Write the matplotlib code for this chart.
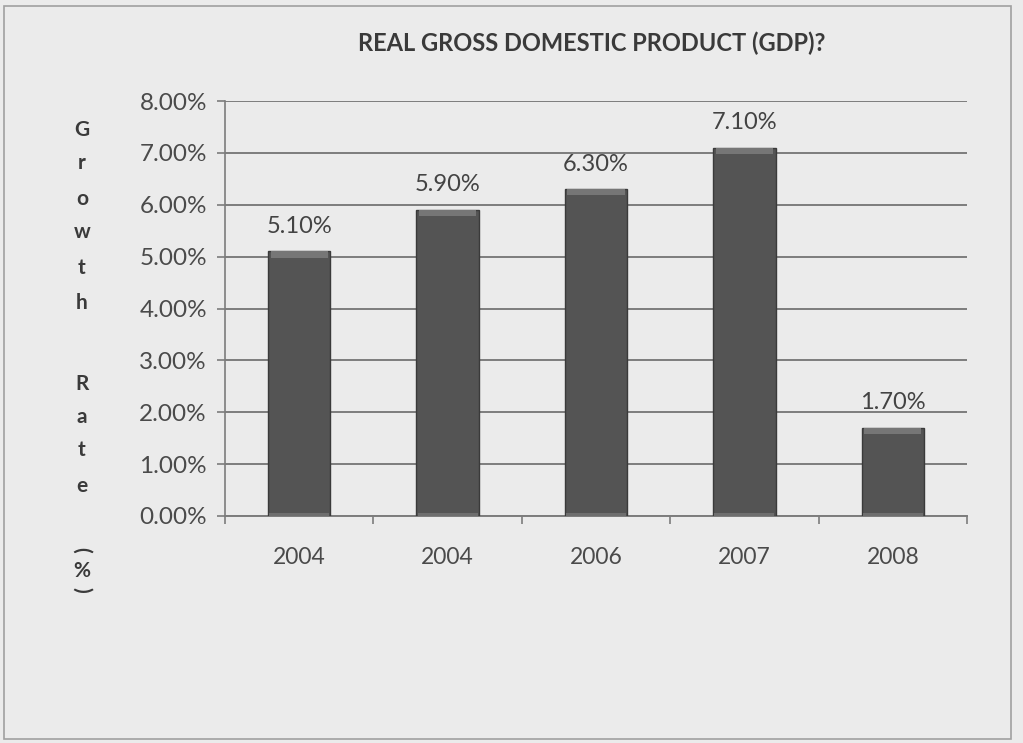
import numpy as np
import matplotlib.pyplot as plt
from matplotlib.patches import Rectangle
from matplotlib.ticker import FuncFormatter, FixedLocator

# growth data
years = ['2004', '2004', '2006', '2007', '2008']
growth = [5.10, 5.90, 6.30, 7.10, 1.70]
title = 'REAL GROSS DOMESTIC PRODUCT (GDP)?'
ylabel_chars = ['G', 'r', 'o', 'w', 't', 'h', 'R', 'a', 't', 'e', '(', '%', ')']

plt.rcParams['font.family'] = ['Lato', 'DejaVu Sans']

fig = plt.figure(figsize=(10.23, 7.43), dpi=100)
fig.patch.set_facecolor('#ebebeb')

# paper frame
fig.patches.append(Rectangle((0.004, 0.006), 0.984, 0.986, transform=fig.transFigure,
                             fill=False, edgecolor='#a0a0a0', lw=1.2))

ax = fig.add_axes([225 / 1023, 1 - 516 / 743, 742 / 1023, 415 / 743])
ax.set_facecolor('none')

x = np.arange(len(years))
vals = np.array(growth)
bar_w = 0.42
ax.bar(x, vals, width=bar_w, color='#545454', edgecolor='#3a3a3a', lw=1.0, zorder=3)
# bevel on top and bottom of each bar
bev = 0.12
ax.bar(x, np.full(len(vals), bev), bottom=vals - bev, width=bar_w * 0.92,
       color='#767676', lw=0, zorder=4)
ax.bar(x, np.full(len(vals), 0.06), bottom=0, width=bar_w * 0.96,
       color='#6e6e6e', lw=0, zorder=4)

for xi, v in zip(x, vals):
    ax.text(xi, v + 0.28, f'{v:.2f}%', ha='center', va='bottom',
            fontsize=17, color='#434343', zorder=5)

ax.set_xlim(-0.5, len(years) - 0.5)
ax.set_ylim(0, 8)
ax.set_yticks(np.arange(0, 9, 1))
ax.yaxis.set_major_formatter(FuncFormatter(lambda v, p: f'{v:.2f}%'))
ax.grid(axis='y', color='#7c7c7c', lw=1.4, zorder=1)
ax.tick_params(axis='y', length=6, width=1.2, color='#7c7c7c',
               labelsize=17.5, labelcolor='#4a4a4a', pad=7)

ax.set_xticks(x)
ax.set_xticklabels(years)
ax.tick_params(axis='x', length=0, labelsize=16.5, labelcolor='#4a4a4a', pad=22)
ax.xaxis.set_minor_locator(FixedLocator(np.arange(-0.5, len(years), 1.0)))
ax.tick_params(axis='x', which='minor', length=6, width=1.2, color='#7c7c7c')

for s in ['top', 'right']:
    ax.spines[s].set_visible(False)
ax.spines['left'].set_color('#7c7c7c')
ax.spines['left'].set_linewidth(1.2)
ax.spines['bottom'].set_color('#7c7c7c')
ax.spines['bottom'].set_linewidth(1.4)

fig.text(592 / 1023, 1 - 43 / 743, title, ha='center', va='center',
         fontsize=17, fontweight='bold', color='#3a3a3a')

# stacked vertical axis title
ys = [130, 163, 199, 232, 268, 303, 384, 417, 450, 486, 550, 571, 590]
for ch, yp in zip(ylabel_chars, ys):
    rot = -90 if ch in '()' else 0
    fig.text(82 / 1023, 1 - yp / 743, ch, ha='center', va='center', rotation=rot,
             fontsize=15, fontweight='bold', color='#3a3a3a')

fig.savefig('out.png', dpi=100, facecolor=fig.get_facecolor())
